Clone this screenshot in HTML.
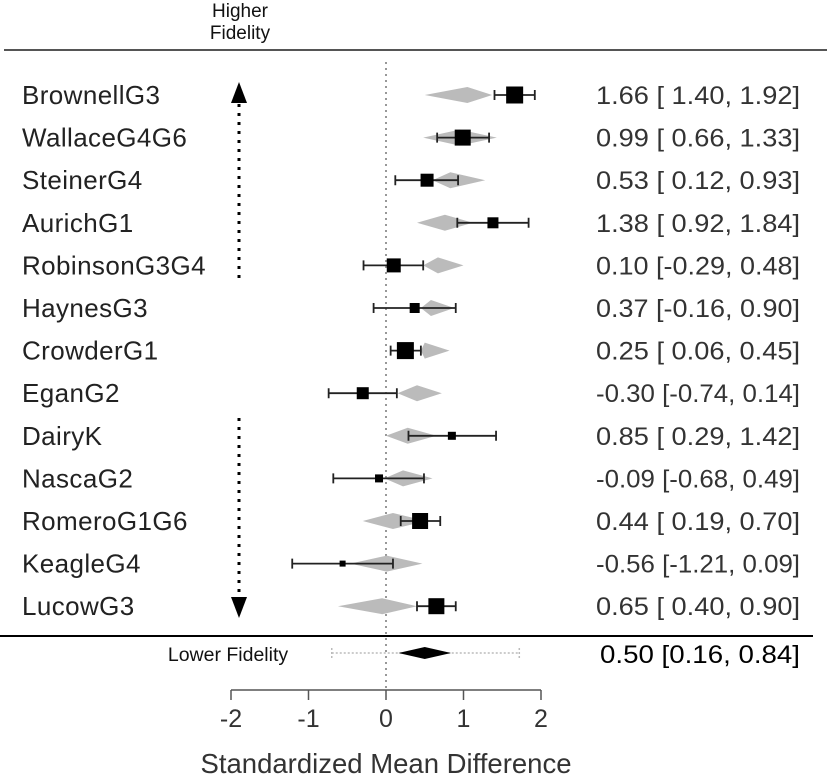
<!DOCTYPE html>
<html><head><meta charset="utf-8"><style>
body{margin:0;background:#fff}
svg{display:block;font-family:"Liberation Sans",Arial,sans-serif}
</style></head><body>
<svg id="c" width="827" height="784" viewBox="0 0 827 784">
<line x1="4" y1="50" x2="827" y2="50" stroke="#555" stroke-width="2"/>
<line x1="0" y1="636" x2="813" y2="636" stroke="#000" stroke-width="2"/>
<text x="240" y="17" font-size="19" text-anchor="middle" fill="#111"><tspan x="240">Higher</tspan><tspan x="240" dy="22">Fidelity</tspan></text>
<text x="228" y="661" font-size="19.5" text-anchor="middle" fill="#111">Lower Fidelity</text>
<g>
<line x1="239" y1="104" x2="239" y2="282" stroke="#000" stroke-width="3" stroke-dasharray="3,6"/>
<polygon points="239,82 231,103 247,103" fill="#000"/>
</g>
<g>
<line x1="239" y1="418" x2="239" y2="596" stroke="#000" stroke-width="3" stroke-dasharray="3,6"/>
<polygon points="239,618 231,597 247,597" fill="#000"/>
</g>
<text x="386" y="773" font-size="27.5" text-anchor="middle" fill="#333">Standardized Mean Difference</text>
<g id="plot"></g>
</svg>
<script>
const studies=["BrownellG3","WallaceG4G6","SteinerG4","AurichG1","RobinsonG3G4","HaynesG3","CrowderG1","EganG2","DairyK","NascaG2","RomeroG1G6","KeagleG4","LucowG3"];
const est=[1.66,0.99,0.53,1.38,0.10,0.37,0.25,-0.30,0.85,-0.09,0.44,-0.56,0.65];
const lo=[1.40,0.66,0.12,0.92,-0.29,-0.16,0.06,-0.74,0.29,-0.68,0.19,-1.21,0.40];
const hi=[1.92,1.33,0.93,1.84,0.48,0.90,0.45,0.14,1.42,0.49,0.70,0.09,0.90];
const weight=[17,16,13,11,14,10,17,12,8,8,16,6,16];
const fitLo=[0.50,0.48,0.60,0.40,0.48,0.45,0.45,0.15,0.0,-0.02,-0.30,-0.46,-0.62];
const fitMid=[1.05,0.95,0.83,0.76,0.67,0.58,0.50,0.40,0.28,0.22,0.09,0.01,-0.05];
const fitHi=[1.37,1.43,1.28,1.12,1.00,0.88,0.82,0.72,0.65,0.60,0.52,0.47,0.40];
const summary=[0.50,0.16,0.84];
const predInt=[-0.70,1.72];
const ticks=[-2,-1,0,1,2];
const NS="http://www.w3.org/2000/svg";
const g=document.getElementById('plot');
const X=v=>386+v*77.5;
const Y=i=>95+i*42.6;
function mk(t,a,p){const e=document.createElementNS(NS,t);for(const k in a)e.setAttribute(k,a[k]);(p||g).appendChild(e);return e;}
function f2(v){return (v<0?"-":" ")+Math.abs(v).toFixed(2);}
const z=mk('line',{x1:X(0),y1:62,x2:X(0),y2:690,stroke:'#777','stroke-width':1.5,'stroke-dasharray':'2,4'});


studies.forEach((s,i)=>{
  const y=Y(i);
  const lab=mk('text',{x:22,y:y+9,'font-size':26,fill:'#222','letter-spacing':0.4});lab.textContent=s;
  
  
  const d=mk('polygon',{points:`${X(fitLo[i])},${y} ${X(fitMid[i])},${y-8} ${X(fitHi[i])},${y} ${X(fitMid[i])},${y+8}`,fill:'#bbb'});
  
  
  const ci=mk('path',{d:`M${X(lo[i])},${y}H${X(hi[i])}M${X(lo[i])},${y-5}V${y+5}M${X(hi[i])},${y-5}V${y+5}`,stroke:'#222','stroke-width':1.8,fill:'none'});
  
  
  const w=weight[i];
  const sq=mk('rect',{x:X(est[i])-w/2,y:y-w/2,width:w,height:w,fill:'#000'});
  
  
  const vt=mk('text',{x:800,y:y+9,'font-size':25,fill:'#333','text-anchor':'end','xml:space':'preserve','textLength':204,'lengthAdjust':'spacingAndGlyphs'});
  vt.textContent=`${est[i].toFixed(2)} [${f2(lo[i])}, ${hi[i].toFixed(2)}]`;
  
  
});
const sy=653;
const pi=mk('path',{d:`M${X(predInt[0])},${sy}H${X(predInt[1])}M${X(predInt[0])},${sy-5}V${sy+5}M${X(predInt[1])},${sy-5}V${sy+5}`,stroke:'#bbb','stroke-width':1.5,'stroke-dasharray':'2,2',fill:'none'});


const sd=mk('polygon',{points:`${X(summary[1])},${sy} ${X(summary[0])},${sy-6} ${X(summary[2])},${sy} ${X(summary[0])},${sy+6}`,fill:'#000'});


const st=mk('text',{x:800,y:sy+10,'font-size':25,fill:'#000','text-anchor':'end','xml:space':'preserve','textLength':200,'lengthAdjust':'spacingAndGlyphs'});
st.textContent=`${summary[0].toFixed(2)}  [${summary[1].toFixed(2)}, ${summary[2].toFixed(2)}]`;


const ax=mk('line',{x1:X(ticks[0]),y1:690,x2:X(ticks[ticks.length-1]),y2:690,stroke:'#555','stroke-width':1.5});


ticks.forEach(t=>{
  const tk=mk('line',{x1:X(t),y1:690,x2:X(t),y2:700,stroke:'#555','stroke-width':1.5});
  
  
  const tl=mk('text',{x:X(t),y:727,'font-size':25,fill:'#333','text-anchor':'middle'});
  tl.textContent=t;
  
  
});
</script>
</body></html>
